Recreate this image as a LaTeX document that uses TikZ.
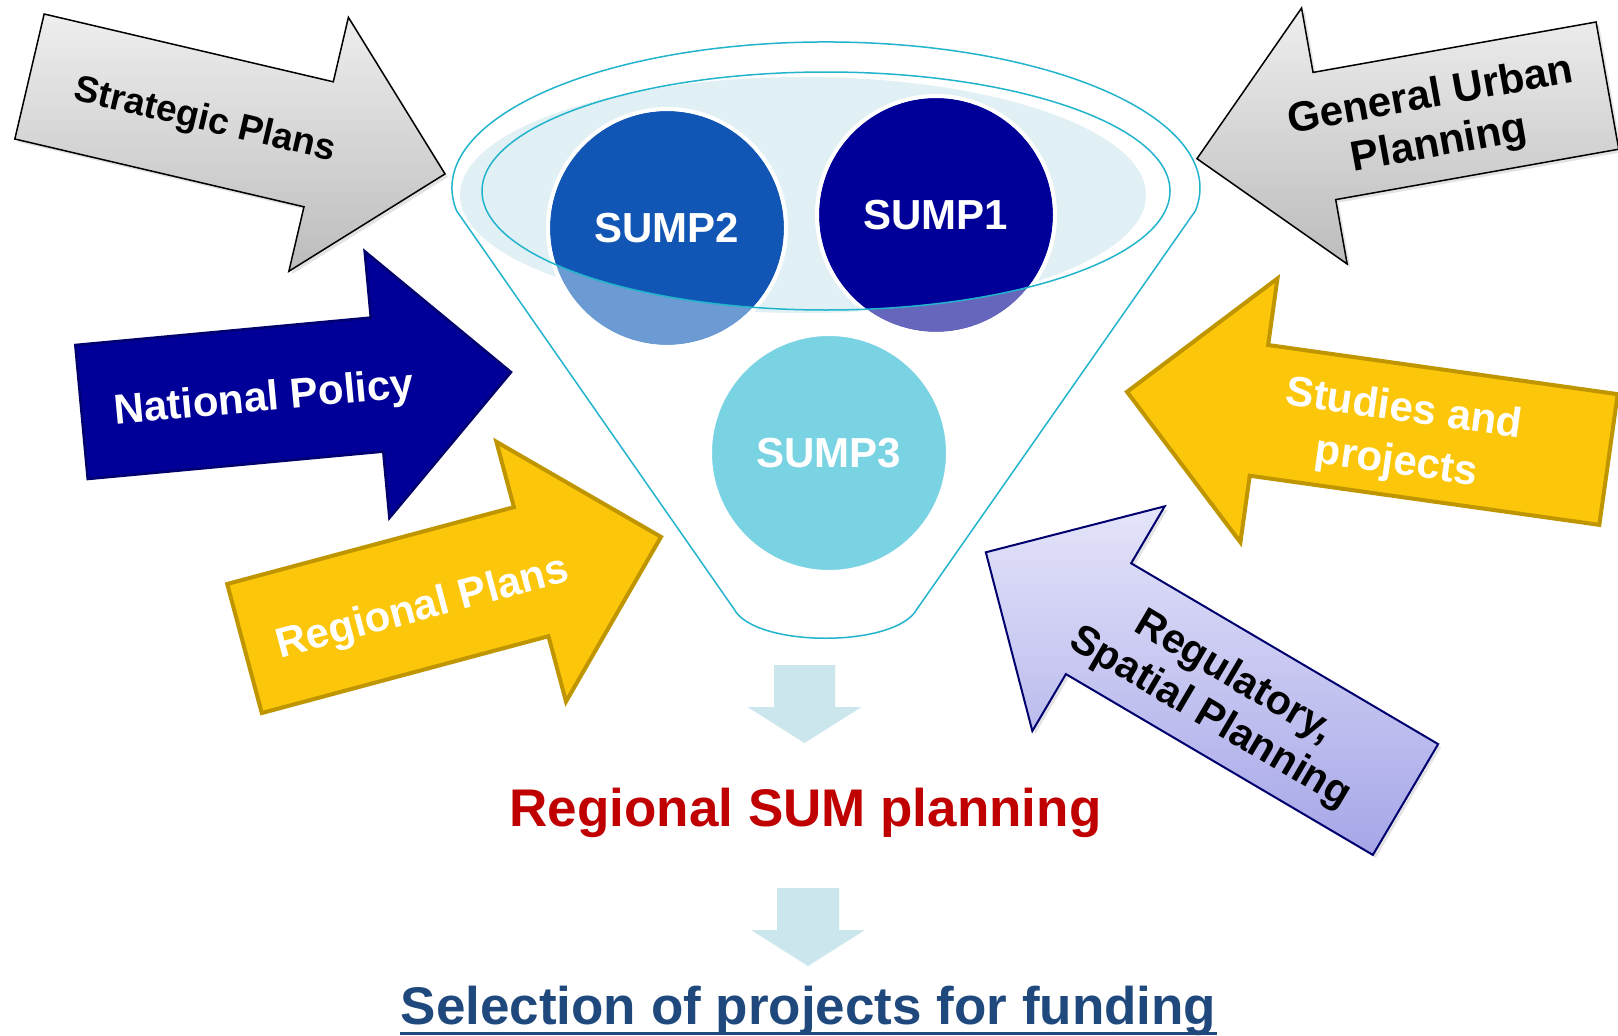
\documentclass[tikz,border=0pt]{standalone}
\usepackage{fontspec}
\setmainfont{Liberation Sans}
\usetikzlibrary{shapes, calc, shadows}
\definecolor{graytop}{RGB}{238,238,238}
\definecolor{graybot}{RGB}{188,188,188}
\definecolor{navyfill}{RGB}{0,0,153}
\definecolor{navyline}{RGB}{0,0,110}
\definecolor{goldfill}{RGB}{252,198,10}
\definecolor{goldline}{RGB}{191,150,0}
\definecolor{lilactop}{RGB}{228,228,250}
\definecolor{lilacbot}{RGB}{166,166,232}
\definecolor{downfill}{RGB}{204,230,237}
\definecolor{funnelcyan}{RGB}{35,180,205}
\definecolor{rimfill}{RGB}{225,240,245}
\definecolor{sumptwofull}{RGB}{17,86,180}
\definecolor{sumptwolow}{RGB}{107,155,210}
\definecolor{sumponefull}{RGB}{0,0,153}
\definecolor{sumponelow}{RGB}{102,102,188}
\definecolor{sumpthreefill}{RGB}{122,211,226}
\definecolor{sumred}{RGB}{192,0,0}
\definecolor{selblue}{RGB}{31,73,125}
\newcommand{\planarrow}[8]{%
  \tikzset{arframe/.style={shift={(#2,#3)},rotate=#4}}%
  \path[#1] ([arframe]0,#6) -- ([arframe]#5-#8,#6) -- ([arframe]#5-#8,#7) -- ([arframe]#5,0)
    -- ([arframe]#5-#8,-#7) -- ([arframe]#5-#8,-#6) -- ([arframe]0,-#6) -- cycle;}
\tikzset{
  grayarrow/.style={draw=black, line width=1.5pt, top color=graytop, bottom color=graybot,
    drop shadow={opacity=.22, shadow xshift=3pt, shadow yshift=-3pt}},
  navyarrow/.style={draw=navyline, line width=2.5pt, fill=navyfill},
  goldarrow/.style={draw=goldline, line width=4pt, fill=goldfill},
  lilacarrow/.style={draw=navyline, line width=2pt, top color=lilactop, bottom color=lilacbot,
    drop shadow={opacity=.22, shadow xshift=3pt, shadow yshift=-3pt}},
  downarrow/.style={fill=downfill},
  funnelline/.style={draw=funnelcyan, line width=1.5pt},
  sump/.style={circle, draw=white, line width=4pt, minimum size=238, inner sep=0, text=white,
    font=\bfseries\fontsize{42}{47}\selectfont},
  arrowtext/.style={align=center, inner sep=0, font=\bfseries\fontsize{42}{47}\selectfont},
  bigtext/.style={anchor=base, inner sep=0, font=\bfseries\fontsize{53}{60}\selectfont}
}
\begin{document}
\begin{tikzpicture}[x=1pt, y=-1pt]
	\useasboundingbox (0,0) rectangle (1618,1036);
	\fill[white] (0,0) rectangle (1618,1036);
	\planarrow{grayarrow}{29.5}{76.5}{-13.2}{426.8}{64.2}{130.4}{129.8}
	\planarrow{navyarrow}{81.5}{412}{5.3}{431.4}{67.3}{134}{134.6}
	\planarrow{goldarrow}{244.5}{648.5}{15}{431.2}{66.8}{134.5}{134.4}
	\planarrow{grayarrow}{1607.4}{85.6}{190.1}{416.9}{64.6}{130}{129.4}
	\planarrow{goldarrow}{1608.5}{459.5}{172}{486.2}{66}{133.2}{133.2}
	\planarrow{lilacarrow}{1405.5}{799.5}{149.5}{487.1}{64.3}{130.4}{130.8}
	\planarrow{downarrow}{804.5}{665}{-90}{78}{30.5}{57}{36}
	\planarrow{downarrow}{808}{888}{-90}{78}{31}{57}{36}
	\node[arrowtext, rotate=-13.2, font=\bfseries\fontsize{37}{42}\selectfont] (strat) at (205,121) {Strategic Plans};
	\node[arrowtext, rotate=5.3, text=white] (natl) at (264,400) {National Policy};
	\node[arrowtext, rotate=15, text=white] (regl) at (423,609) {Regional Plans};
	\node[arrowtext, rotate=10.2, font=\bfseries\fontsize{42}{49}\selectfont] (urban) at (1435,121) {General Urban\\Planning};
	\node[arrowtext, rotate=-8, text=white, font=\bfseries\fontsize{42}{53}\selectfont] (studies) at (1400,437) {Studies and\\projects};
	\node[arrowtext, rotate=-30.5, font=\bfseries\fontsize{41}{47}\selectfont] (spatial) at (1222,698) {Regulatory,\\Spatial Planning};
	\fill[rimfill] (803,195) ellipse [x radius=343, y radius=118];
	\fill[sumptwolow] (667,228) circle [radius=117];
	\fill[sumponelow] (936,215) circle [radius=117];
	\begin{scope}
		\clip (826,191) ellipse [x radius=344, y radius=119];
		\fill[sumptwofull] (667,228) circle [radius=117];
		\fill[sumponefull] (936,215) circle [radius=117];
	\end{scope}
	\node[sump] (sumptwo) at (667,228) {SUMP2};
	\node[sump] (sumpone) at (936,215) {SUMP1};
	\node[sump, fill=sumpthreefill] (sumpthree) at (829,453) {SUMP3};
	\draw[funnelline] (826,191) ellipse [x radius=344, y radius=119];
	\draw[funnelline] (734,609) -- (456.6,210.8) arc [start angle=171, end angle=369, x radius=374, y radius=146]
		-- (917,609) .. controls (896,648) and (755,648) .. (734,609);
	\node[bigtext, text=sumred] (sumplan) at (805.5,826) {Regional SUM planning};
	\node[bigtext, text=selblue] (select) at (808.5,1024) {Selection of projects for funding};
	\draw[selblue, line width=3pt] ([yshift=-9pt]select.base west) -- ([yshift=-9pt]select.base east);
\end{tikzpicture}
\end{document}
